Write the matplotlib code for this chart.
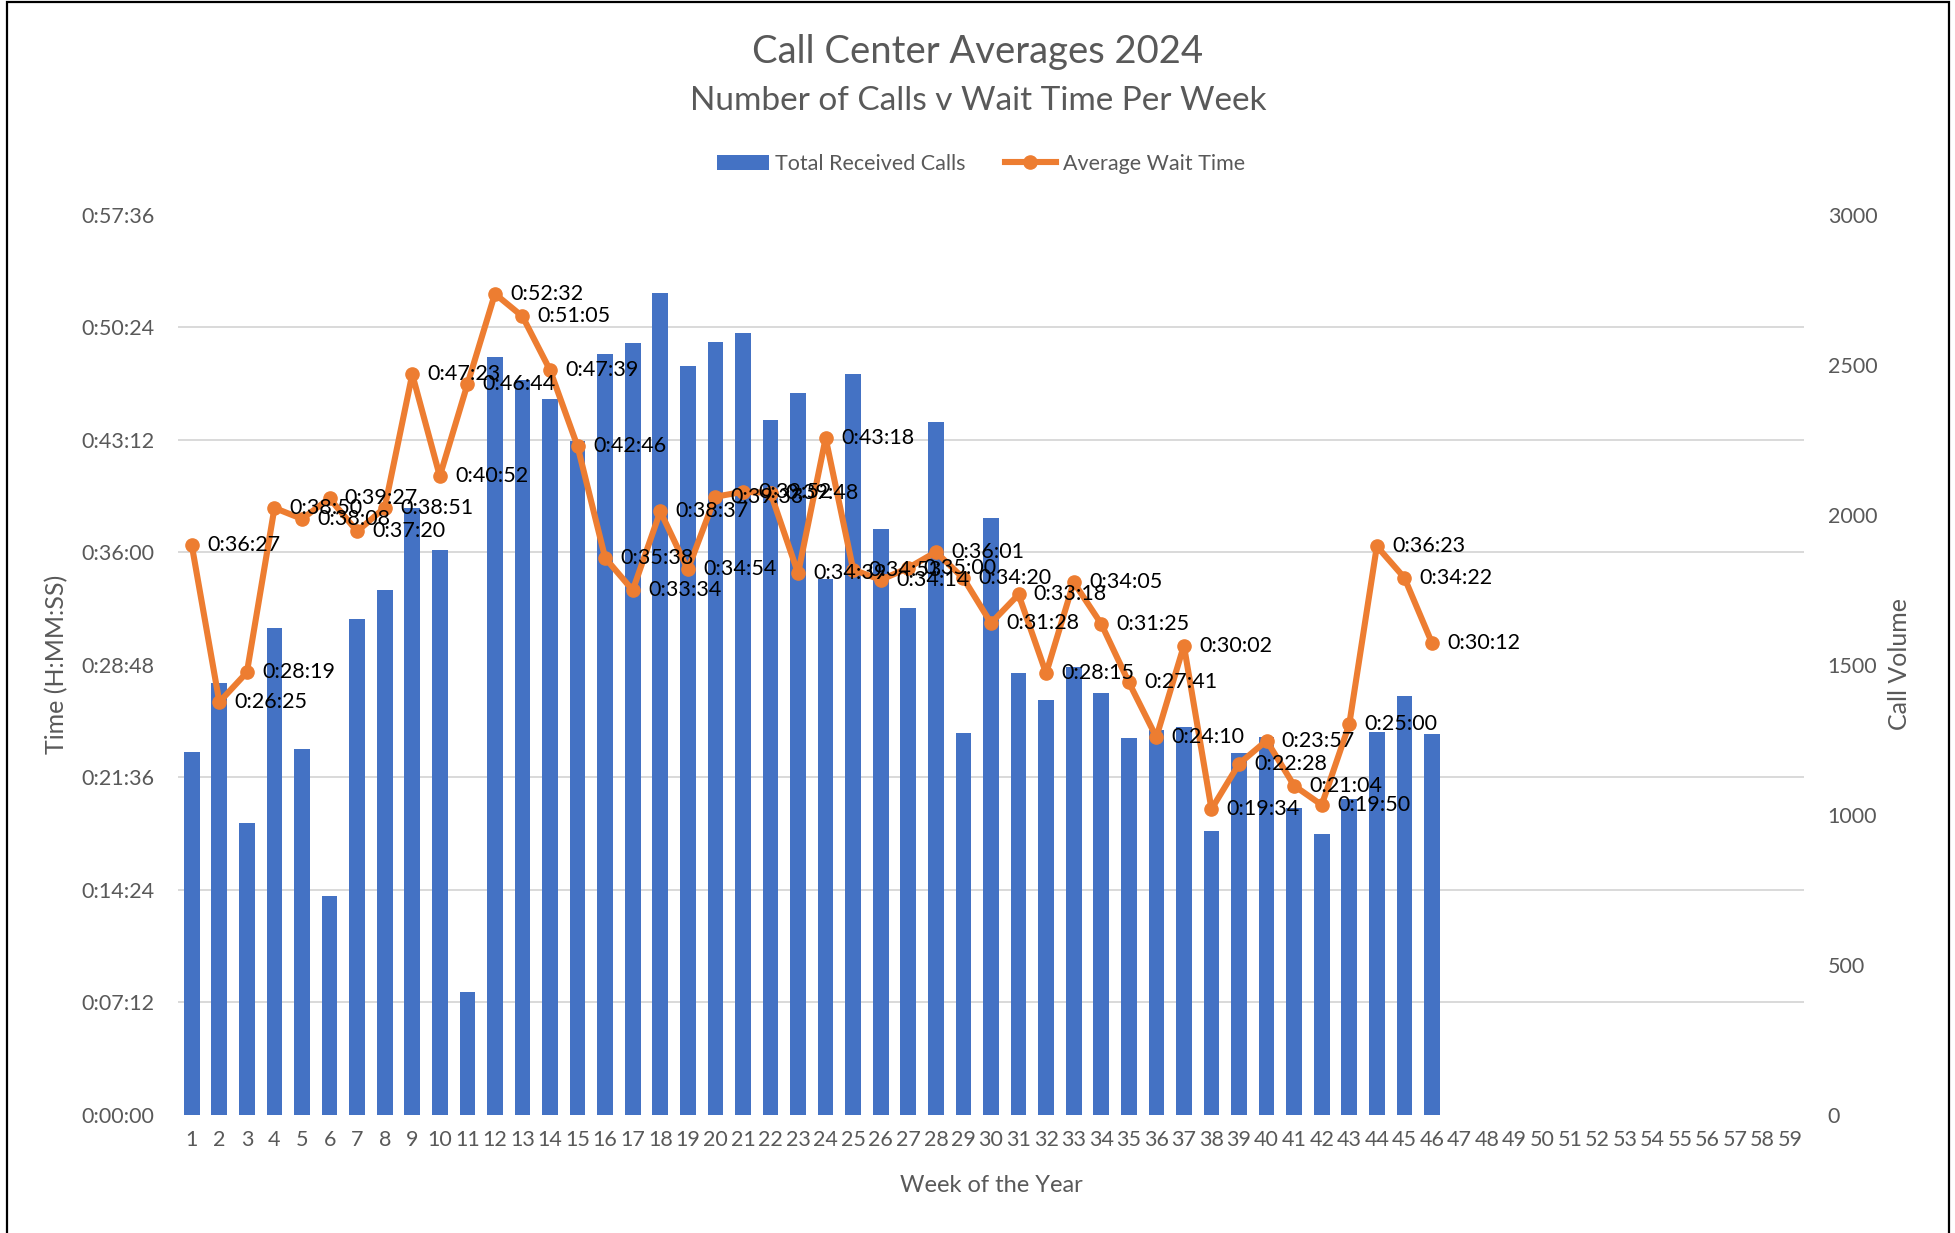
import matplotlib
matplotlib.use("Agg")
import matplotlib.pyplot as plt
from matplotlib.ticker import FuncFormatter, MultipleLocator
from matplotlib.patches import Rectangle
import numpy as np

plt.rcParams['font.family'] = ['Lato', 'DejaVu Sans']

# data
weeks = list(range(1, 60))
call_weeks = list(range(1, 47))
total_calls = [1210, 1440, 973, 1623, 1220, 730, 1653, 1749, 2022, 1883,
               410, 2526, 2449, 2386, 2246, 2536, 2572, 2739, 2496, 2576,
               2606, 2316, 2406, 1786, 2469, 1953, 1689, 2309, 1273, 1989,
               1473, 1383, 1493, 1406, 1256, 1283, 1293, 946, 1206, 1260,
               1023, 936, 1053, 1276, 1396, 1270]
wait_times = ["0:36:27", "0:26:25", "0:28:19", "0:38:50", "0:38:08", "0:39:27",
              "0:37:20", "0:38:51", "0:47:23", "0:40:52", "0:46:44", "0:52:32",
              "0:51:05", "0:47:39", "0:42:46", "0:35:38", "0:33:34", "0:38:37",
              "0:34:54", "0:39:33", "0:39:52", "0:39:48", "0:34:39", "0:43:18",
              "0:34:53", "0:34:14", "0:35:00", "0:36:01", "0:34:20", "0:31:28",
              "0:33:18", "0:28:15", "0:34:05", "0:31:25", "0:27:41", "0:24:10",
              "0:30:02", "0:19:34", "0:22:28", "0:23:57", "0:21:04", "0:19:50",
              "0:25:00", "0:36:23", "0:34:22", "0:30:12"]


def to_sec(s):
    h, m, sec = s.split(":")
    return int(h) * 3600 + int(m) * 60 + int(sec)


def fmt_time(v, pos=None):
    v = int(round(v))
    return f"{v // 3600}:{v % 3600 // 60:02d}:{v % 60:02d}"


wait_sec = [to_sec(s) for s in wait_times]

BLUE = "#4472C4"
ORANGE = "#ED7D31"
GREY = "#595959"
GRID = "#D9D9D9"

W, H = 1956, 1233
fig = plt.figure(figsize=(W / 100, H / 100), dpi=100)

# bars on the call volume axis (labels on the right)
ax1 = fig.add_axes([178 / W, 1 - 1115 / H, (1804 - 178) / W, (1115 - 214.6) / H])
ax1.bar(call_weeks, total_calls, width=0.57, color=BLUE, zorder=2)
ax1.set_xlim(0.5, 59.5)
ax1.set_ylim(0, 3000)
ax1.yaxis.set_major_locator(MultipleLocator(500))
ax1.set_yticks(np.linspace(0, 3000, 9), minor=True)
ax1.grid(which='minor', axis='y', color=GRID, lw=1.4, zorder=0)
ax1.set_xticks(weeks)
for sp in ax1.spines.values():
    sp.set_visible(False)

# wait time line on the time axis (labels on the left)
ax2 = ax1.twinx()
ax2.plot(call_weeks, wait_sec, color=ORANGE, lw=4.4, marker='o', ms=9.5,
         solid_joinstyle='round', zorder=3)
ax2.set_ylim(0, 3456)
ax2.yaxis.set_major_locator(MultipleLocator(432))
ax2.yaxis.set_major_formatter(FuncFormatter(fmt_time))
for sp in ax2.spines.values():
    sp.set_visible(False)

# swap sides: twinx puts the first axis on the left
ax1.yaxis.tick_right()
ax2.yaxis.tick_left()
ax1.tick_params(axis='both', which='both', length=0, labelsize=15.5, labelcolor=GREY)
ax1.tick_params(axis='y', pad=17)
ax1.tick_params(axis='x', pad=11)
ax2.tick_params(axis='y', length=0, labelsize=15.5, labelcolor=GREY, pad=17)

for wk, sec, lab in zip(call_weeks, wait_sec, wait_times):
    ax2.annotate(lab, (wk, sec), xytext=(11, 0), textcoords='offset points',
                 ha='left', va='center', fontsize=15.5, color='black', zorder=4)

# titles and axis titles
fig.text(978 / W, 1 - 52 / H, "Call Center Averages 2024", ha='center', va='center',
         fontsize=27.5, color=GREY)
fig.text(978 / W, 1 - 101 / H, "Number of Calls v Wait Time Per Week", ha='center',
         va='center', fontsize=24, color=GREY)
fig.text(57 / W, 1 - 664 / H, "Time (H:MM:SS)", rotation=90, ha='center', va='center',
         fontsize=18, color=GREY)
fig.text(1900 / W, 1 - 664 / H, "Call Volume", rotation=90, ha='center', va='center',
         fontsize=18, color=GREY)
fig.text(991 / W, 1 - 1186 / H, "Week of the Year", ha='center', va='center',
         fontsize=17, color=GREY)

bars = ax1.containers[0]
line = ax2.lines[0]
leg = fig.legend([bars, line], ["Total Received Calls", "Average Wait Time"],
                 loc='center', bbox_to_anchor=(981 / W, 1 - 164 / H), ncol=2,
                 frameon=False, fontsize=15.5, handlelength=2.4, handletextpad=0.3,
                 columnspacing=1.8, numpoints=1)
for t in leg.get_texts():
    t.set_color(GREY)

# chart border
fig.patches.append(Rectangle((7 / W, -0.05), 1942 / W, 1.05 - 2 / H, fill=False,
                             edgecolor='black', lw=1.6, transform=fig.transFigure))

fig.savefig("out.png", dpi=100, facecolor='white')
